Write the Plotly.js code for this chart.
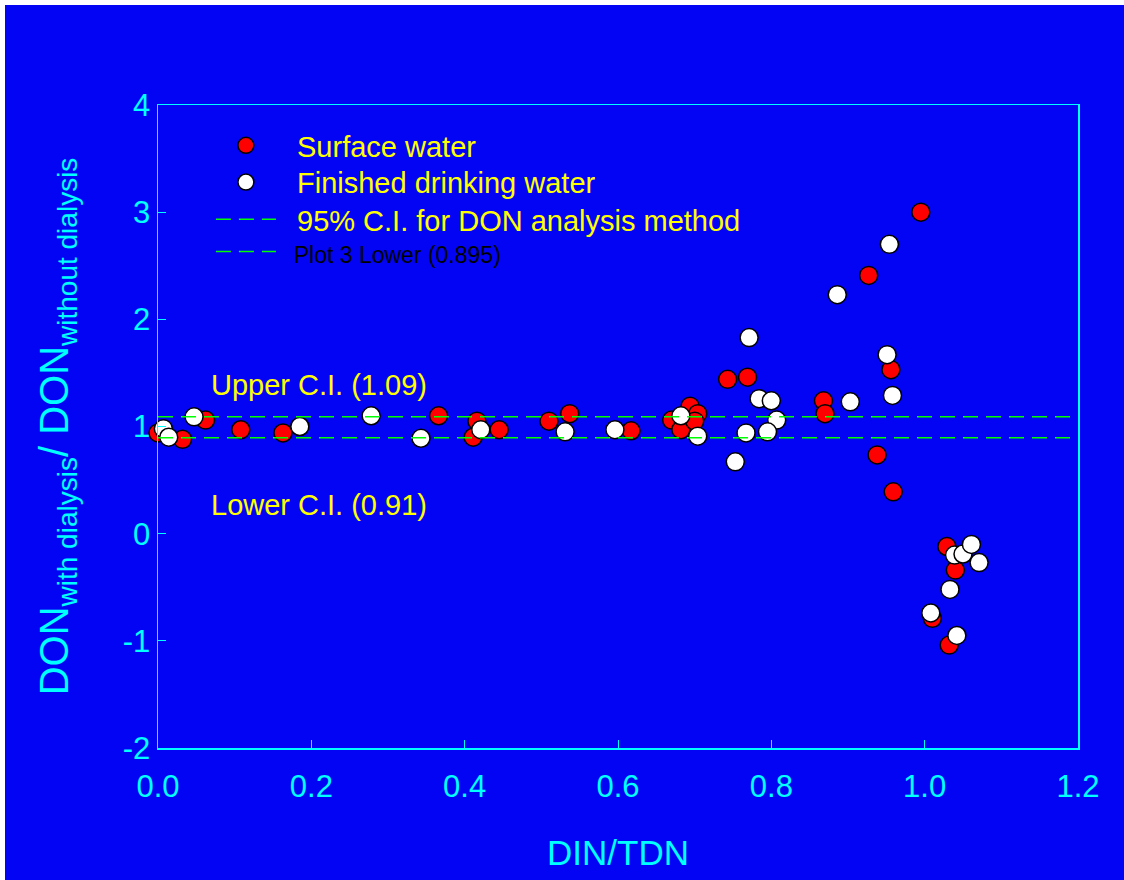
<!DOCTYPE html>
<html>
<head>
<meta charset="utf-8">
<script src="https://cdn.plot.ly/plotly-3.0.1.min.js"></script>
<style>
  html, body { margin: 0; padding: 0; background: #ffffff; width: 1124px; height: 880px; overflow: hidden; }
  #chart { position: absolute; left: 5px; top: 5px; width: 1119px; height: 875px; }
</style>
</head>
<body>
<div id="chart"></div>
<script>
// Surface water (red)
const surfaceX = [0.000, 0.032, 0.062, 0.108, 0.163, 0.366, 0.411, 0.416, 0.445, 0.510, 0.537, 0.617,
                  0.670, 0.682, 0.694, 0.704, 0.700, 0.743, 0.769, 0.868, 0.870, 0.927, 0.938, 0.956,
                  0.959, 0.995, 1.029, 1.040, 1.010, 1.032];
const surfaceY = [0.94, 0.88, 1.06, 0.97, 0.94, 1.10, 0.90, 1.05, 0.97, 1.05, 1.12, 0.96,
                  1.06, 0.97, 1.19, 1.12, 1.05, 1.44, 1.46, 1.24, 1.12, 2.41, 0.735, 1.53,
                  0.39, 3.00, -0.12, -0.34, -0.79, -1.04];
// Finished drinking water (white)
const finishedX = [0.007, 0.014, 0.047, 0.185, 0.278, 0.343, 0.421, 0.531, 0.596, 0.682, 0.704, 0.753,
                   0.767, 0.771, 0.784, 0.800, 0.807, 0.795, 0.886, 0.903, 0.951, 0.954, 0.958,
                   1.039, 1.050, 1.061, 1.071, 1.033, 1.008, 1.042];
const finishedY = [0.98, 0.90, 1.09, 1.00, 1.10, 0.89, 0.97, 0.95, 0.97, 1.10, 0.91, 0.67,
                   0.94, 1.83, 1.26, 1.24, 1.06, 0.95, 2.23, 1.23, 1.67, 2.70, 1.29,
                   -0.20, -0.19, -0.10, -0.27, -0.52, -0.74, -0.95];
// Confidence interval lines
const ciX = [0, 1.2];
const upperCI = 1.09;
const lowerCI = 0.895;
const xTicks = [0.0, 0.2, 0.4, 0.6, 0.8, 1.0, 1.2];
const xTickText = ['0.0', '0.2', '0.4', '0.6', '0.8', '1.0', '1.2'];
const yTicks = [-2, -1, 0, 1, 2, 3, 4];
const yTickText = ['-2', '-1', '0', '1', '2', '3', '4'];

const cyan = '#00FFFF';
const blue = '#0404F4';
const yellow = '#FFFF00';
const green = '#00FF00';
const pad = '\u00a0\u00a0';

const traces = [
  {
    x: surfaceX, y: surfaceY, type: 'scatter', mode: 'markers', name: pad + 'Surface water',
    cliponaxis: false, legend: 'legend',
    marker: { color: '#FF0000', size: 18, line: { color: '#000000', width: 1.5 } }
  },
  {
    x: finishedX, y: finishedY, type: 'scatter', mode: 'markers', name: pad + 'Finished drinking water',
    cliponaxis: false, legend: 'legend2',
    marker: { color: '#FFFFFF', size: 18, line: { color: '#000000', width: 1.5 } }
  },
  {
    x: ciX, y: ciX.map(() => upperCI), type: 'scatter', mode: 'lines',
    name: pad + '95% C.I. for DON analysis method', legend: 'legend3',
    line: { color: green, width: 1.5, dash: '15px,8px' }
  },
  {
    x: ciX, y: ciX.map(() => lowerCI), type: 'scatter', mode: 'lines',
    name: '<span style="color:#000000;font-size:23px">' + pad + 'Plot 3 Lower (0.895)</span>', legend: 'legend4',
    line: { color: green, width: 1.5, dash: '15px,8px' }
  }
];

function legendAt(yc) {
  return {
    x: 0.0575, y: yc, xanchor: 'left', yanchor: 'middle',
    bgcolor: 'rgba(0,0,0,0)', borderwidth: 0,
    font: { color: yellow, size: 29, family: 'Liberation Sans, Arial, sans-serif' },
    itemwidth: 60
  };
}

const layout = {
  width: 1119, height: 875,
  paper_bgcolor: blue, plot_bgcolor: blue,
  margin: { l: 153, r: 46, t: 100, b: 132 },
  font: { family: 'Liberation Sans, Arial, sans-serif', color: cyan, size: 30 },
  showlegend: true,
  legend: legendAt(0.937),
  legend2: legendAt(0.880),
  legend3: legendAt(0.822),
  legend4: legendAt(0.772),
  xaxis: {
    range: [0, 1.2], tickvals: xTicks, ticktext: xTickText,
    ticks: 'inside', ticklen: 8, tickwidth: 1, tickcolor: cyan,
    showline: true, linecolor: cyan, linewidth: 1.5, mirror: true,
    showgrid: false, zeroline: false,
    ticklabelstandoff: 10,
    tickfont: { size: 31, color: cyan },
    title: { text: 'DIN/TDN', font: { size: 35, color: cyan }, standoff: 38 }
  },
  yaxis: {
    range: [-2, 4], tickvals: yTicks, ticktext: yTickText,
    ticks: 'inside', ticklen: 8, tickwidth: 1, tickcolor: cyan,
    showline: true, linecolor: cyan, linewidth: 1.5, mirror: true,
    showgrid: false, zeroline: false,
    tickfont: { size: 31, color: cyan },
    title: { text: 'DON<sub>with dialysis</sub>/ DON<sub>without dialysis</sub>', font: { size: 40, color: cyan }, standoff: 41 }
  },
  annotations: [
    { x: 0.066, y: 1.39, xref: 'x', yref: 'y', xanchor: 'left', yanchor: 'middle', showarrow: false,
      text: 'Upper C.I. (1.09)', font: { size: 29, color: yellow } },
    { x: 0.066, y: 0.27, xref: 'x', yref: 'y', xanchor: 'left', yanchor: 'middle', showarrow: false,
      text: 'Lower C.I. (0.91)', font: { size: 29, color: yellow } }
  ]
};

Plotly.newPlot('chart', traces, layout, { staticPlot: true, displayModeBar: false });
</script>
</body>
</html>
